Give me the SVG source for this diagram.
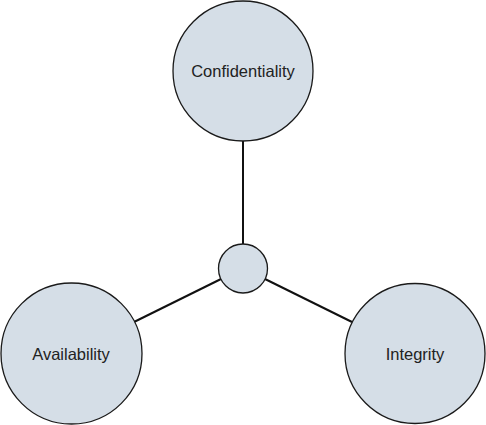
<svg xmlns="http://www.w3.org/2000/svg" width="486" height="425" viewBox="0 0 486 425">
<style>
.node{fill:#d5dee7;stroke:#1a1a1a;stroke-width:1.3}
.lbl{font-family:"Liberation Sans",Arial,sans-serif;font-size:16.5px;fill:#222;text-anchor:middle}
.conn{stroke:#111;stroke-width:2;fill:none}
</style>
<rect width="486" height="425" fill="#fff"/>
<g id="connectors">
<line class="conn" x1="243" y1="141" x2="243" y2="244"/>
<line class="conn" x1="221" y1="279" x2="134" y2="322"/>
<line class="conn" x1="265" y1="279" x2="352" y2="322"/>
</g>
<g id="confidentiality">
<circle class="node" cx="243" cy="71" r="70"/>
<text class="lbl" x="243" y="77">Confidentiality</text>
</g>
<g id="center">
<circle class="node" cx="243" cy="268.5" r="24.5"/>
</g>
<g id="availability">
<circle class="node" cx="71.5" cy="353.5" r="70.5"/>
<text class="lbl" x="71" y="359.5">Availability</text>
</g>
<g id="integrity">
<circle class="node" cx="415" cy="353.5" r="70"/>
<text class="lbl" x="415" y="359.5">Integrity</text>
</g>
</svg>
